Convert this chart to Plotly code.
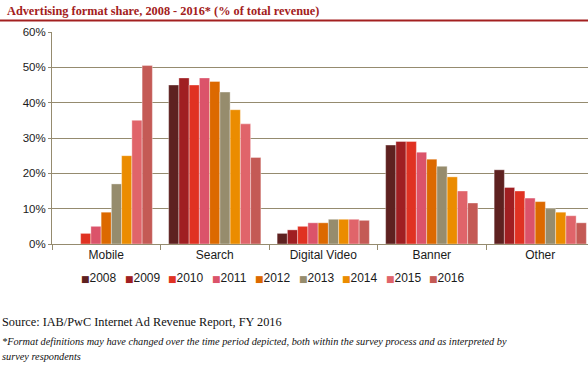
import plotly.graph_objects as go

categories = ["Mobile", "Search", "Digital Video", "Banner", "Other"]
years = ["2008", "2009", "2010", "2011", "2012", "2013", "2014", "2015", "2016"]
# values per year across categories (percent of total revenue)
v2008 = [0, 45, 3, 28, 21]
v2009 = [0, 47, 4, 29, 16]
v2010 = [3, 45, 5, 29, 15]
v2011 = [5, 47, 6, 26, 13]
v2012 = [9, 46, 6, 24, 12]
v2013 = [17, 43, 7, 22, 10]
v2014 = [25, 38, 7, 19, 9]
v2015 = [35, 34, 7, 15, 8]
v2016 = [50.5, 24.5, 6.7, 11.6, 6]
series = [v2008, v2009, v2010, v2011, v2012, v2013, v2014, v2015, v2016]
colors = ["#5E2120", "#A01F22", "#E03222", "#DB536A", "#DC6900",
          "#968C6D", "#EB8C00", "#E0646A", "#C45A55"]
y_ticks = [0, 10, 20, 30, 40, 50, 60]
y_tick_text = ["0%", "10%", "20%", "30%", "40%", "50%", "60%"]

fig = go.Figure()
for yr, vals, c in zip(years, series, colors):
    fig.add_trace(go.Bar(
        name=yr, x=categories, y=vals, showlegend=False,
        marker=dict(color=c, line=dict(color="rgba(255,255,255,0.45)", width=0.8)),
    ))

W, H = 588, 368
ml, mt, mb = 52, 32, 124
pw = W - ml
ph = H - mt - mb
grid = "#958B6F"

def px_x(x):
    return (x - ml) / pw

def px_y(y):
    return (H - mb - y) / ph

fig.update_layout(
    width=W, height=H,
    margin=dict(l=ml, r=0, t=mt, b=mb, pad=0),
    barmode="group", bargap=0.15, bargroupgap=0,
    plot_bgcolor="white", paper_bgcolor="white",
    font=dict(family="Liberation Sans, Arial", size=11, color="#1a1a1a"),
    showlegend=False,
    xaxis=dict(range=[-0.5, 4.44], showgrid=False, showline=True, linecolor=grid, linewidth=1,
               ticks="outside", tickson="boundaries", ticklen=5, tickcolor=grid,
               tickfont=dict(size=12, color="#1a1a1a")),
    yaxis=dict(range=[0, 60], tickvals=y_ticks, ticktext=y_tick_text, showgrid=True,
               gridcolor=grid, gridwidth=1, showline=True, linecolor=grid, linewidth=1,
               ticks="outside", ticklen=3, tickcolor=grid, zeroline=False,
               tickfont=dict(size=11.5, color="#1a1a1a")),
)

# legend (manual, compact like the original)
for i, (yr, c) in enumerate(zip(years, colors)):
    fig.add_annotation(
        text=f'<span style="color:{c};font-size:9px;font-family:DejaVu Sans">■</span>{yr}',
        xref="paper", yref="paper", x=px_x(79 + i * 43.5), y=px_y(278),
        xanchor="left", yanchor="middle", showarrow=False,
        font=dict(family="Liberation Sans, Arial", size=12, color="#1a1a1a"))

fig.add_shape(type="line", xref="paper", yref="paper",
              x0=px_x(0), x1=px_x(W), y0=px_y(20.5), y1=px_y(20.5),
              line=dict(color="#A32020", width=2))

fig.add_annotation(text="<b>Advertising format share, 2008 - 2016* (% of total revenue)</b>",
                   xref="paper", yref="paper", x=px_x(5), y=px_y(11),
                   xanchor="left", yanchor="middle", showarrow=False,
                   font=dict(family="Liberation Serif, DejaVu Serif", size=12.3, color="#A32020"))

fig.add_annotation(text="Source: IAB/PwC Internet Ad Revenue Report, FY 2016",
                   xref="paper", yref="paper", x=px_x(0), y=px_y(322),
                   xanchor="left", yanchor="middle", showarrow=False,
                   font=dict(family="Liberation Serif, DejaVu Serif", size=12.3, color="#111111"))
fig.add_annotation(text="<i>*Format definitions may have changed over the time period depicted, both within the survey process and as interpreted by</i>",
                   xref="paper", yref="paper", x=px_x(0), y=px_y(341),
                   xanchor="left", yanchor="middle", showarrow=False,
                   font=dict(family="Liberation Serif, DejaVu Serif", size=10.3, color="#111111"))
fig.add_annotation(text="<i>survey respondents</i>",
                   xref="paper", yref="paper", x=px_x(0), y=px_y(356),
                   xanchor="left", yanchor="middle", showarrow=False,
                   font=dict(family="Liberation Serif, DejaVu Serif", size=10.3, color="#111111"))

fig.write_html("out.html", config={"displayModeBar": False},
               post_script="document.body.style.margin='0';")
